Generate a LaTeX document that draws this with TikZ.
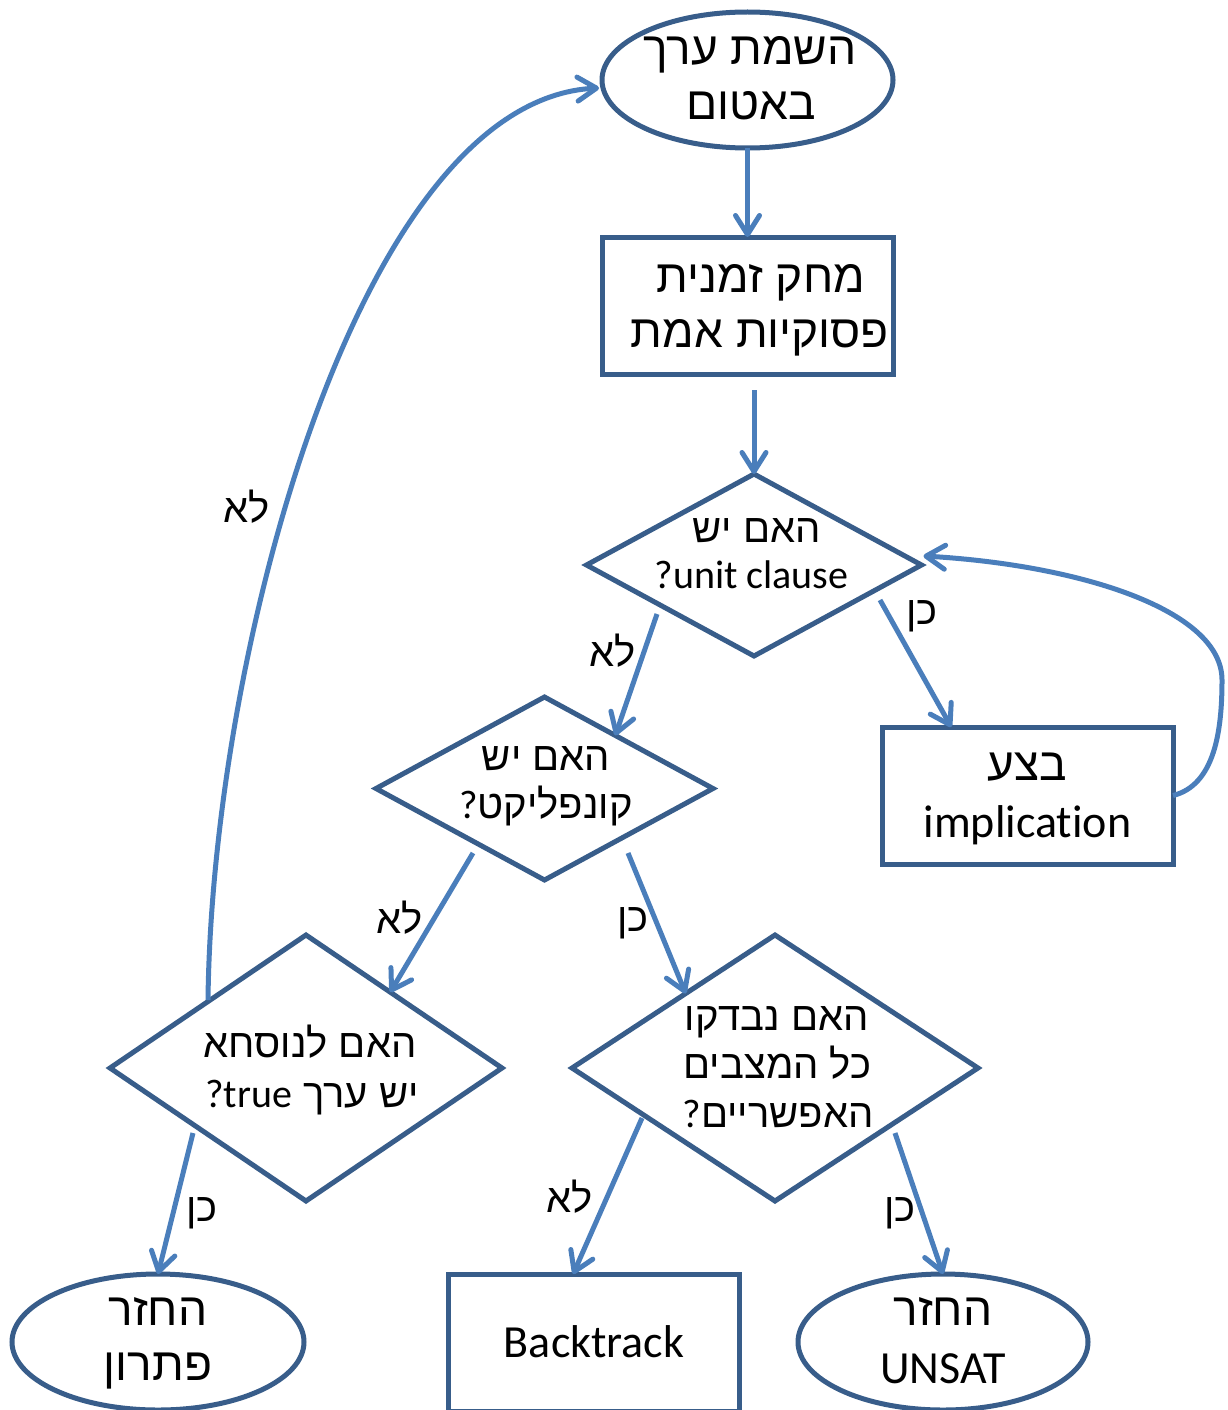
\documentclass[tikz,border=0pt]{standalone}
\usepackage{fontspec}
\setmainfont{Carlito}[Ligatures=NoCommon]
\newfontfamily\heb[Script=Hebrew]{Liberation Sans}
\TeXXeTstate=1
\usetikzlibrary{shapes.geometric,arrows.meta,calc}
\definecolor{bordc}{HTML}{385D8A}
\definecolor{arrc}{HTML}{4A7EBB}
\newcommand\szbig{\fontsize{46}{55}\selectfont}
\newcommand\szsml{\fontsize{40}{48}\selectfont}
\tikzset{
  shp/.style={draw=bordc, line width=5pt, inner sep=0pt, outer sep=0pt, fill=white},
  ell/.style={shp, ellipse},
  box/.style={shp, rectangle},
  dia/.style={shp, diamond},
  tb/.style={font=\szbig, anchor=base, inner sep=0pt},
  ts/.style={font=\szsml, anchor=base, inner sep=0pt},
  lab/.style={font=\szsml, anchor=center, inner sep=0pt},
  arr/.style={draw=arrc, line width=5pt, -{Straight Barb[length=19pt,width=24pt,round]}},
}
\begin{document}
\begin{tikzpicture}[x=1pt,y=-1pt]
\useasboundingbox (0,0) rectangle (1227,1410);
\clip (0,0) rectangle (1227,1410);

% shapes
\node[ell, minimum width=291pt, minimum height=136pt] (e1) at (747.5,80) {};
\node[box, minimum width=291pt, minimum height=137pt] (r1) at (747.5,305.5) {};
\node[dia, minimum width=335pt, minimum height=182pt] (d1) at (754,565) {};
\node[box, minimum width=291pt, minimum height=137pt] (r2) at (1027.5,795.5) {};
\node[dia, minimum width=337pt, minimum height=183pt] (d2) at (544.5,788.5) {};
\node[dia, minimum width=392pt, minimum height=266pt] (d3) at (306,1068) {};
\node[dia, minimum width=406pt, minimum height=266pt] (d4) at (775,1068) {};
\node[ell, minimum width=292pt, minimum height=136pt] (e2) at (158,1342) {};
\node[box, minimum width=291pt, minimum height=137pt] (r3) at (593.5,1342.5) {};
\node[ell, minimum width=290pt, minimum height=136pt] (e3) at (943,1342) {};

% texts
\node[tb] (e1a) at (750,65) {\heb\beginR השמת ערך\endR};
\node[tb] (e1b) at (751,120) {\heb\beginR באטום\endR};
\node[tb] (r1a) at (761,292) {\heb\beginR מחק זמנית\endR};
\node[tb] (r1b) at (760,347) {\heb\beginR פסוקיות אמת\endR};
\node[ts] (d1a) at (756.5,542) {\heb\beginR האם יש\endR};
\node[ts] (d1b) at (751.5,588) {\beginR\beginL unit clause\endL?\endR};
\node[tb] (r2a) at (1027,780) {\heb\beginR בצע\endR};
\node[tb] (r2b) at (1027.5,837) {implication};
\node[ts] (d2a) at (546,770) {\heb\beginR האם יש\endR};
\node[ts] (d2b) at (546,818) {\beginR{\heb קונפליקט}?\endR};
\node[ts] (d3a) at (310,1057) {\heb\beginR האם לנוסחא\endR};
\node[ts] (d3b) at (312,1107) {\beginR{\heb יש ערך }\beginL true\endL?\endR};
\node[ts] (d4a) at (777,1030) {\heb\beginR האם נבדקו\endR};
\node[ts] (d4b) at (777.5,1078) {\heb\beginR כל המצבים\endR};
\node[ts] (d4c) at (778,1127) {\beginR{\heb האפשריים}?\endR};
\node[tb] (e2a) at (158,1325) {\heb\beginR החזר\endR};
\node[tb] (e2b) at (158,1380) {\heb\beginR פתרון\endR};
\node[tb] (r3a) at (594,1357) {Backtrack};
\node[tb] (e3a) at (943,1325) {\heb\beginR החזר\endR};
\node[tb] (e3b) at (943,1383) {UNSAT};

% labels
\node[lab] (l1) at (247,507) {\heb\beginR לא\endR};
\node[lab] (l2) at (613,651) {\heb\beginR לא\endR};
\node[lab] (l3) at (922,616) {\heb\beginR כן\endR};
\node[lab] (l4) at (400,918) {\heb\beginR לא\endR};
\node[lab] (l5) at (633,923) {\heb\beginR כן\endR};
\node[lab] (l6) at (202,1213) {\heb\beginR כן\endR};
\node[lab] (l7) at (570,1197) {\heb\beginR לא\endR};
\node[lab] (l8) at (900,1213) {\heb\beginR כן\endR};

% connectors
\coordinate (s2) at (754,390);
\coordinate (s3) at (657,614);
\coordinate (s4) at (880,600);
\coordinate (s5) at (473,853);
\coordinate (s6) at (628,853);
\coordinate (s7) at (193,1133);
\coordinate (s8) at (642,1118);
\coordinate (s9) at (895,1133);
\coordinate (s10) at (208,1000);

\draw[arr] (e1.south) -- (r1.north);
\draw[arr] (s2) -- (d1.north);
\draw[arr] (s3) -- ($(d2.north)!0.42!(d2.east)$);
\draw[arr] (s4) -- ($(r2.north west)!0.238!(r2.north east)$);
\draw[arr] (s5) -- ($(d3.north)!0.43!(d3.east)$);
\draw[arr] (s6) -- ($(d4.north)!0.44!(d4.west)$);
\draw[arr] (s7) -- (e2.north);
\draw[arr] (s8) -- ($(r3.north west)!0.43!(r3.north east)$);
\draw[arr] (s9) -- (e3.north);
\draw[arr] (r2.east) .. controls (1215,785) and (1222,730) .. (1222,680)
  .. controls (1222,610) and (1080,565) .. ($(d1.east)+(2,-9)$);
\draw[arr] (s10) .. controls (212,650) and (360,100) .. ($(e1.west)+(-3,8)$);
\end{tikzpicture}
\end{document}
